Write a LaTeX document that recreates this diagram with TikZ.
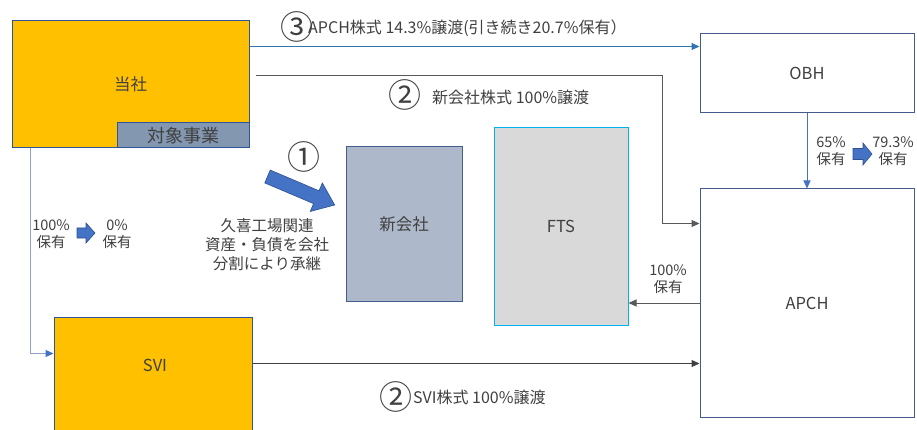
\documentclass[tikz,border=0pt]{standalone}
\usepackage{fontspec}
\setmainfont{Noto Sans CJK JP}
\usetikzlibrary{arrows.meta,calc}
\definecolor{orng}{HTML}{FFC000}
\definecolor{bordblue}{HTML}{2F5597}
\definecolor{boxbord}{HTML}{435C8C}
\definecolor{taifill}{HTML}{8497B0}
\definecolor{newfill}{HTML}{ADB9CA}
\definecolor{ftsfill}{HTML}{D9D9D9}
\definecolor{ftsbord}{HTML}{00B0F0}
\definecolor{txt}{HTML}{404040}
\definecolor{accent}{HTML}{4472C4}
\definecolor{accentdark}{HTML}{2F528F}
\definecolor{line3}{HTML}{2E75B6}
\definecolor{greyline}{HTML}{595959}
\definecolor{paleline}{HTML}{8EA1C4}
\begin{document}
\begin{tikzpicture}[x=1pt,y=-1pt,
  every node/.style={text=txt},
  boxbase/.style={draw, line width=1pt, inner sep=0pt},
  obox/.style={boxbase, draw=bordblue, fill=orng, font=\fontsize{16.5}{16.5}\selectfont},
  wbox/.style={boxbase, draw=boxbord, fill=white, font=\fontsize{16.5}{16.5}\selectfont},
  lbl/.style={inner sep=0pt, align=center, font=\fontsize{14.5}{17}\selectfont},
  midlbl/.style={inner sep=0pt, anchor=west, font=\fontsize{16}{17}\selectfont},
  biglbl/.style={inner sep=0pt, align=center, font=\fontsize{15.5}{19}\selectfont},
  circnum/.style={inner sep=0pt, font=\fontsize{33}{33}\selectfont},
  tipb/.style={-{Triangle[length=8pt,width=7pt]}},
  blockarrow/.style={fill=accent, draw=accentdark, line width=0.6pt, line join=miter}
]
\clip (0,0) rectangle (917,430);

% boxes
\node[obox, minimum width=237pt, minimum height=127pt] (tosha) at (130.5,84.5) {当社};
\node[boxbase, draw=bordblue, fill=taifill, minimum width=132pt, minimum height=25pt,
      font=\fontsize{18}{18}\selectfont] (taisho) at (183,135.5) {対象事業};
\node[obox, minimum width=198pt, minimum height=128pt] (svi) at (153,381) {};
\node[inner sep=0pt, font=\fontsize{16.5}{16.5}\selectfont] (svitext) at (155,365) {SVI};
\node[boxbase, draw=boxbord, fill=newfill, minimum width=116pt, minimum height=154pt,
      font=\fontsize{16.5}{16.5}\selectfont] (shin) at (404,224) {新会社};
\node[boxbase, draw=ftsbord, fill=ftsfill, minimum width=134pt, minimum height=197pt,
      font=\fontsize{16.5}{16.5}\selectfont] (fts) at (561,226.5) {FTS};
\node[wbox, minimum width=214pt, minimum height=79pt] (obh) at (807,73.5) {OBH};
\node[wbox, minimum width=214pt, minimum height=228pt] (apch) at (807,303) {APCH};

% connectors
\draw[line3, line width=1pt, tipb] ([yshift=-26pt]tosha.north east) -- ([yshift=-26pt]tosha.north east -| obh.west);
\coordinate (s2) at ([shift={(6pt,-55pt)}]tosha.north east);
\coordinate (bend2) at ([xshift=407pt]s2);
\coordinate (apchin) at ([yshift=-35pt]apch.north west);
\draw[greyline, line width=1pt, tipb] (s2) -- (bend2) |- (apchin);
\coordinate (svitop) at ([yshift=-37pt]svi.north west);
\draw[paleline, line width=1pt, -{Triangle[length=8pt,width=7pt,fill=accent,color=accent]}]
  ([xshift=19pt]tosha.south west) |- (svitop);
\coordinate (sviout) at ([yshift=-47pt]svi.north east);
\draw[txt, line width=1pt, tipb] (sviout) -- (sviout -| apch.west);
\draw[accent, line width=1pt, tipb] (obh.south) -- (apch.north);
\draw[greyline, line width=1pt, tipb] (apch.west) -- (apch.west -| fts.east);

% block arrows
\draw[blockarrow, shift={(267.5,176.5)}, rotate=-23]
  (0,-7) -- (53,-7) -- (53,-15.5) -- (73,0) -- (53,15.5) -- (53,7) -- (0,7) -- cycle;
\draw[blockarrow, shift={(77,233)}]
  (0,-5) -- (9,-5) -- (9,-10) -- (18,0) -- (9,10) -- (9,5) -- (0,5) -- cycle;
\draw[blockarrow, shift={(853,154)}]
  (0,-5.5) -- (10,-5.5) -- (10,-11) -- (19,0) -- (10,11) -- (10,5.5) -- (0,5.5) -- cycle;

% labels
\node[circnum] (c3) at (296.5,27) {③};
\node[midlbl] (l3) at (308,28) {APCH株式 14.3\%譲渡(引き続き20.7\%保有）};
\node[circnum] (c2a) at (404.5,95) {②};
\node[midlbl] (l2a) at (432,97) {新会社株式 100\%譲渡};
\node[circnum] (c2b) at (395.5,397) {②};
\node[midlbl] (l2b) at (413,397) {SVI株式 100\%譲渡};
\node[circnum] (c1) at (304,157) {①};
\node[biglbl] (l1) at (267,244.5) {久喜工場関連\\資産・負債を会社\\分割により承継};
\node[lbl] (lsa) at (51,234.5) {100\%\\保有};
\node[lbl] (lsb) at (117,234.5) {0\%\\保有};
\node[lbl] (lfts) at (668,279) {100\%\\保有};
\node[lbl] (lob1) at (831,151.5) {65\%\\保有};
\node[lbl] (lob2) at (893,151.5) {79.3\%\\保有};
\end{tikzpicture}
\end{document}
